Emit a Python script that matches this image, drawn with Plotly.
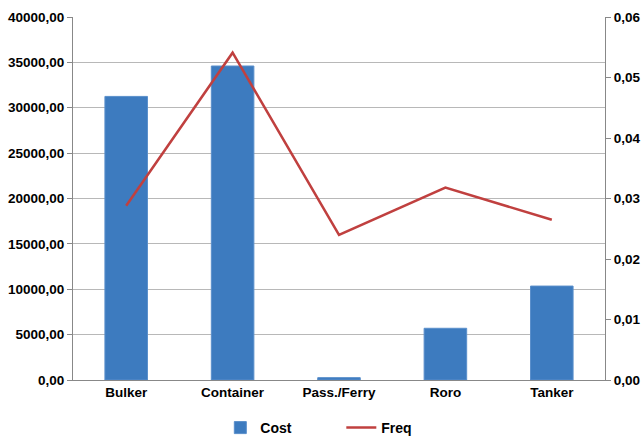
import plotly.graph_objects as go

categories = ["Bulker", "Container", "Pass./Ferry", "Roro", "Tanker"]
cost = [31250, 34600, 260, 5700, 10350]
freq = [0.0288, 0.0541, 0.0240, 0.0318, 0.0265]
left_ticks = [0, 5000, 10000, 15000, 20000, 25000, 30000, 35000, 40000]
right_ticks = [0, 0.01, 0.02, 0.03, 0.04, 0.05, 0.06]

fig = go.Figure()
fig.add_trace(go.Bar(x=categories, y=cost, name="Cost", marker=dict(color="#3D7BBF", line=dict(color="#5A8FCB", width=1)), yaxis="y"))
fig.add_trace(go.Scatter(x=categories, y=freq, name="Freq", mode="lines", line=dict(color="#C0403F", width=2.5), yaxis="y2"))

fig.update_layout(
    width=644, height=444,
    margin=dict(l=73, r=39, t=17, b=64, autoexpand=False),
    paper_bgcolor="white", plot_bgcolor="white",
    separators=", ",
    bargap=0.6,
    font=dict(family="Liberation Sans, Arial", size=13, color="#000"),
    xaxis=dict(showline=True, linecolor="#888", linewidth=1, ticks="", showgrid=False, automargin=False,
               tickfont=dict(size=13.5, weight="bold")),
    yaxis=dict(range=[0, 40000], tickvals=left_ticks, tickformat=".2f", showgrid=True, gridcolor="#B8B8B8", gridwidth=1,
               showline=True, linecolor="#888", ticks="outside", ticklen=5, tickcolor="#888", zeroline=False,
               automargin=False, tickfont=dict(size=13.5, weight="bold")),
    yaxis2=dict(range=[0, 0.06], tickvals=right_ticks, tickformat=".2f", overlaying="y", side="right", showgrid=False,
                showline=True, linecolor="#888", ticks="outside", ticklen=5, tickcolor="#888", zeroline=False,
                automargin=False, tickfont=dict(size=13.5, weight="bold")),
    legend=dict(orientation="h", x=0.53, xanchor="center", xref="container", y=0.0, yanchor="bottom", yref="container",
                font=dict(size=14, weight="bold"), entrywidth=76),
    showlegend=True,
)
fig.write_html("out.html", config={"displayModeBar": False},
               post_script="document.body.style.margin='0';document.body.style.overflow='hidden';")
